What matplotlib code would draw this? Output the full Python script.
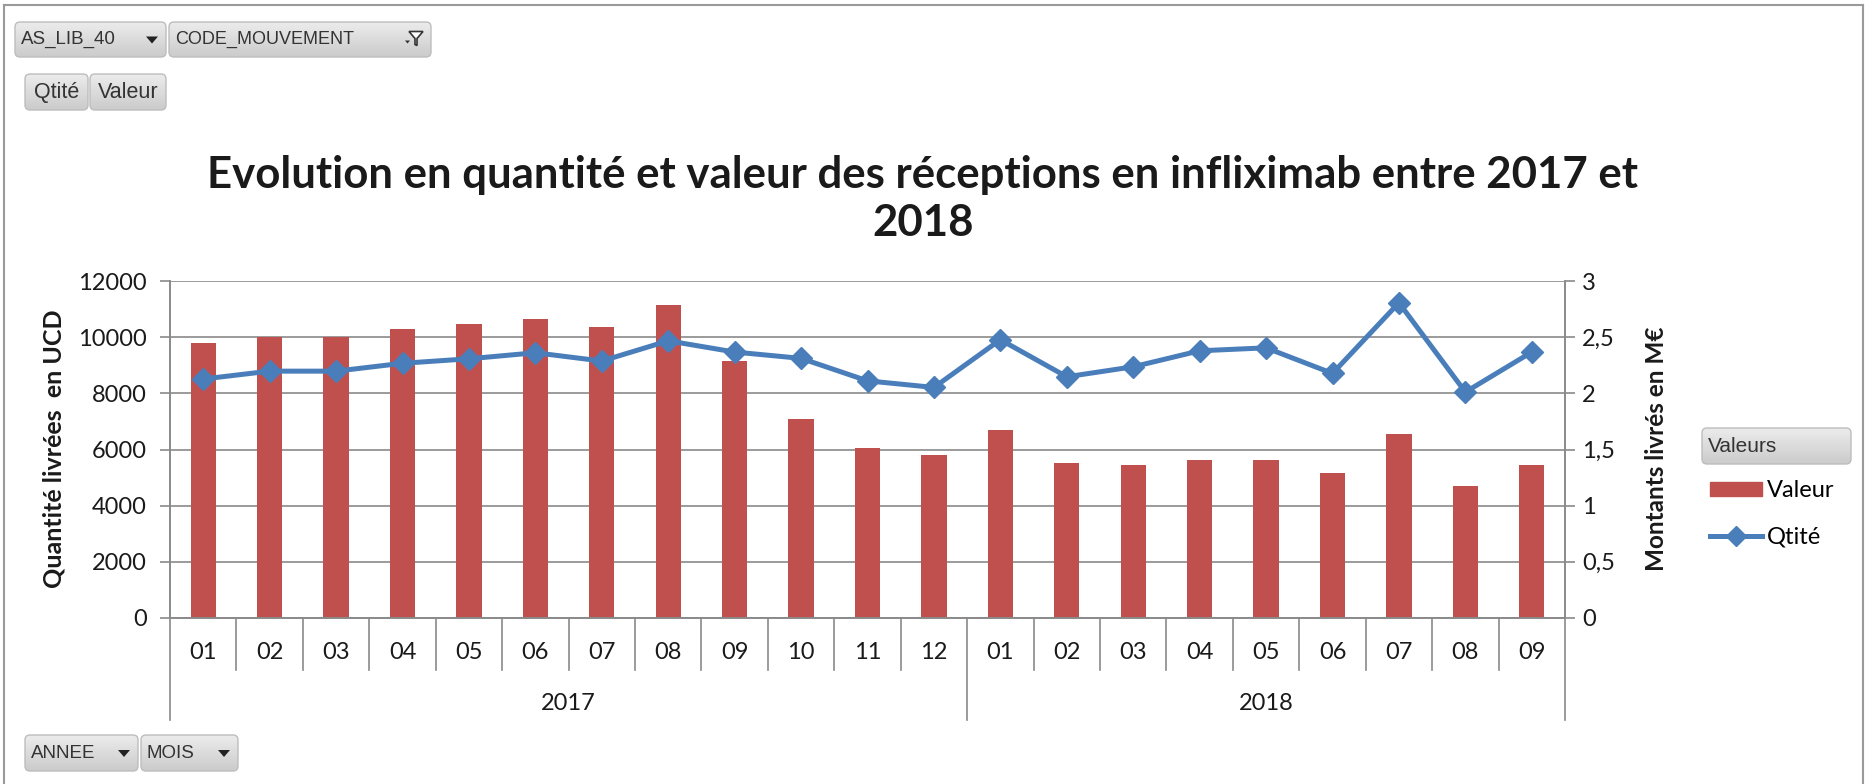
import matplotlib
matplotlib.use("Agg")
import matplotlib.pyplot as plt
from matplotlib.patches import FancyBboxPatch, Patch, Polygon
from matplotlib.lines import Line2D
from matplotlib.transforms import blended_transform_factory
import numpy as np

plt.rcParams['font.family'] = ['Lato', 'DejaVu Sans']

# ---------------- data ----------------
months = ["01", "02", "03", "04", "05", "06", "07", "08", "09", "10", "11", "12",
          "01", "02", "03", "04", "05", "06", "07", "08", "09"]
years = ["2017"] * 12 + ["2018"] * 9
year_labels = ["2017", "2018"]
valeur_meur = [2.445, 2.50, 2.50, 2.575, 2.62, 2.66, 2.59, 2.79, 2.29, 1.775, 1.515, 1.45,
               1.675, 1.378, 1.362, 1.405, 1.405, 1.29, 1.635, 1.178, 1.363]
qtite_ucd = [8510, 8790, 8790, 9070, 9230, 9445, 9150, 9870, 9470, 9245, 8445, 8210,
             9910, 8590, 8945, 9515, 9620, 8710, 11225, 8045, 9470]
left_ticks = [0, 2000, 4000, 6000, 8000, 10000, 12000]
right_ticks = [0, 0.5, 1, 1.5, 2, 2.5, 3]
right_tick_labels = ["0", "0,5", "1", "1,5", "2", "2,5", "3"]
title = "Evolution en quantité et valeur des réceptions en infliximab entre 2017 et\n2018"

W, H = 1868, 784
fig = plt.figure(figsize=(W / 100, H / 100), dpi=100)

def fx(px):
    return px / W

def fy(py):
    return 1 - py / H

GRID = "#8a8a8a"
BAR = "#C0504D"
LINE = "#4A7EBB"
TXT = "#1a1a1a"
TICK_FS = 17

# axes placement (pixel coords of plot area)
L, R, T, B = 170, 1565, 281, 618
ax = fig.add_axes([fx(L), fy(B), fx(R) - fx(L), fy(T) - fy(B)])
ax2 = ax.twinx()

x = np.arange(len(months))

# bars on secondary axis (values in M€)
ax2.bar(x, valeur_meur, width=0.38, color=BAR, zorder=2)
ax2.set_ylim(0, 3)
ax2.set_yticks(right_ticks)
ax2.set_yticklabels(right_tick_labels)

# line on primary axis, drawn above bars
ax.set_zorder(ax2.get_zorder() + 1)
ax.patch.set_visible(False)
ax.plot(x, qtite_ucd, color=LINE, lw=3.6, marker="D", ms=11.5,
        markerfacecolor=LINE, markeredgecolor=LINE, zorder=3)
ax.set_ylim(0, 12000)
ax.set_yticks(left_ticks)
ax.set_xlim(-0.5, len(months) - 0.5)

# gridlines (drawn on ax2 behind bars)
for v in right_ticks:
    ax2.axhline(v, color=GRID, lw=1.2, zorder=1)

for a in (ax, ax2):
    a.spines["top"].set_visible(False)
    for s in ("left", "right", "bottom"):
        a.spines[s].set_color(GRID)
        a.spines[s].set_linewidth(1.2)

ax.tick_params(axis="y", direction="out", length=7.5, width=1.2, color=GRID,
               labelsize=TICK_FS, labelcolor=TXT, pad=9)
ax2.tick_params(axis="y", direction="out", length=7.5, width=1.2, color=GRID,
                labelsize=TICK_FS, labelcolor=TXT, pad=5)

# month ticks
ax.set_xticks(x)
ax.set_xticklabels(months)
ax.tick_params(axis="x", length=0, pad=17, labelsize=TICK_FS, labelcolor=TXT)
ax2.tick_params(axis="x", length=0, labelbottom=False)

# multi-level category separators
trans = blended_transform_factory(ax.transData, ax.transAxes)
axh = B - T
month_sep = (670 - B) / axh
year_sep = (720 - B) / axh
n = len(months)
for i in range(n + 1):
    xv = i - 0.5
    boundary = i == 0 or i == n or years[i - 1] != years[i]
    depth = year_sep if boundary else month_sep
    ax.add_line(Line2D([xv, xv], [0, -depth], transform=trans, color=GRID,
                       lw=1.2, clip_on=False))

for yl in year_labels:
    idx = [i for i, yv in enumerate(years) if yv == yl]
    ax.text((idx[0] + idx[-1]) / 2, -(703 - B) / axh, yl, transform=trans,
            ha="center", va="center", fontsize=TICK_FS, color=TXT)

# axis labels
fig.text(fx(54), fy(449), "Quantité livrées  en UCD", rotation=90, ha="center",
         va="center", fontsize=18, fontweight="bold", color=TXT)
fig.text(fx(1657), fy(449), "Montants livrés en M€", rotation=90, ha="center",
         va="center", fontsize=17.5, fontweight="bold", color=TXT)

# title
fig.text(0.494, fy(199), title, ha="center", va="center", fontsize=31.5,
         fontweight="bold", color=TXT, linespacing=1.22)

# legend
handles = [Patch(facecolor=BAR, edgecolor=BAR),
           Line2D([0], [0], color=LINE, lw=3.6, marker="D", ms=10,
                  markerfacecolor=LINE, markeredgecolor=LINE)]
fig.legend(handles, ["Valeur", "Qtité"], loc="upper left",
           bbox_to_anchor=(fx(1710), fy(480)), frameon=False, fontsize=17,
           handlelength=2.2, handleheight=0.55, handletextpad=0.2,
           labelspacing=1.1, borderaxespad=0, borderpad=0)

# ---------- pivot-chart field buttons (overlay in pixel coordinates) ----------
ov = fig.add_axes([0, 0, 1, 1], zorder=20)
ov.set_xlim(0, W)
ov.set_ylim(H, 0)
ov.axis("off")
ov.patch.set_visible(False)

grad = np.linspace(0, 1, 64).reshape(-1, 1)
cmap = matplotlib.colors.LinearSegmentedColormap.from_list(
    "btn", ["#ececec", "#cbcbcb"])

def button(x0, y0, x1, y1, label, arrow=None, fs=13.5, center=False):
    p = FancyBboxPatch((x0, y0), x1 - x0, y1 - y0,
                       boxstyle="round,pad=0,rounding_size=5",
                       facecolor="none", edgecolor="#bdbdbd", lw=1.0, zorder=3)
    ov.add_patch(p)
    im = ov.imshow(grad, extent=[x0, x1, y1, y0], cmap=cmap, aspect="auto",
                   zorder=2, interpolation="bilinear")
    im.set_clip_path(p)
    if center:
        ov.text((x0 + x1) / 2, (y0 + y1) / 2, label, ha="center", va="center",
                fontsize=fs, color="#333333", zorder=4,
                family=["Liberation Sans", "DejaVu Sans"])
    else:
        ov.text(x0 + 6, (y0 + y1) / 2, label, ha="left", va="center",
                fontsize=fs, color="#333333", zorder=4,
                family=["Liberation Sans", "DejaVu Sans"])
    if arrow == "down":
        cx, cy = x1 - 14, (y0 + y1) / 2
        ov.add_patch(Polygon([[cx - 6, cy - 3], [cx + 6, cy - 3], [cx, cy + 4]],
                             closed=True, facecolor="#222222", edgecolor="none",
                             zorder=4))
    elif arrow == "filter":
        cx, cy = x1 - 16, (y0 + y1) / 2
        ov.add_patch(Polygon([[cx - 6, cy - 8], [cx + 8, cy - 8], [cx + 2, cy - 1],
                              [cx + 2, cy + 6], [cx, cy + 5], [cx, cy - 1]],
                             closed=True, facecolor="white", edgecolor="#333333",
                             lw=1.2, zorder=4))
        ov.add_patch(Polygon([[cx - 10, cy + 1], [cx - 5, cy + 1], [cx - 7.5, cy + 4]],
                             closed=True, facecolor="#333333", edgecolor="none",
                             zorder=4))

button(15, 22, 166, 57, "AS_LIB_40", "down")
button(169, 22, 431, 57, "CODE_MOUVEMENT", "filter", fs=13)
button(25, 74, 88, 110, "Qtité", fs=15.5, center=True)
button(90, 74, 166, 110, "Valeur", fs=15.5, center=True)
button(25, 735, 138, 771, "ANNEE", "down")
button(141, 735, 238, 771, "MOIS", "down")
button(1702, 428, 1851, 464, "Valeurs", fs=15)

# outer frame
for xs, ys in [([4, 4], [5, 784]), ([4, 1863], [5, 5]), ([1863, 1863], [5, 784])]:
    ov.add_line(Line2D(xs, ys, color="#9a9a9a", lw=1.5, clip_on=False))

ov.set_xlim(0, W)
ov.set_ylim(H, 0)
fig.savefig("out.png", dpi=100, facecolor="white")
